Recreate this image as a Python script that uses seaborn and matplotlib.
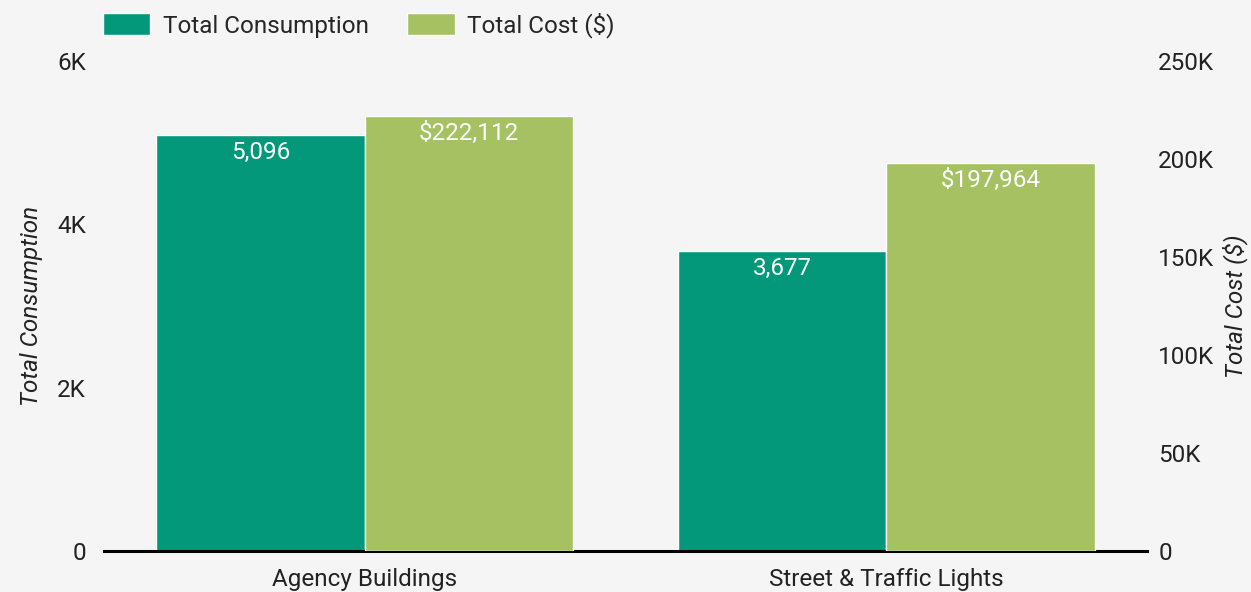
import matplotlib
matplotlib.use("Agg")
import matplotlib.pyplot as plt
import matplotlib.ticker as mticker
from matplotlib.patches import Patch
import seaborn as sns
import pandas as pd

# chart data
categories = ["Agency Buildings", "Street & Traffic Lights"]
consumption = [5096, 3677]
cost = [222112, 197964]
series = ["Total Consumption", "Total Cost ($)"]
colors = ["#029879", "#a5c162"]

sns.set_theme(style="white")
plt.rcParams["font.family"] = ["Roboto", "DejaVu Sans"]
bg = "#f5f5f5"

df_cons = pd.DataFrame({"category": categories, "value": consumption, "metric": series[0]})
df_cost = pd.DataFrame({"category": categories, "value": cost, "metric": series[1]})

fig = plt.figure(figsize=(12.51, 5.92), dpi=100, facecolor=bg)
ax1 = fig.add_axes([0.0831, 0.0693, 0.8338, 0.8277])
ax1.set_facecolor(bg)
ax2 = ax1.twinx()

pal = dict(zip(series, colors))
sns.barplot(data=df_cons, x="category", y="value", hue="metric", hue_order=series,
            order=categories, palette=pal, ax=ax1, width=0.8, dodge=True,
            edgecolor="white", linewidth=1, legend=False, saturation=1)
sns.barplot(data=df_cost, x="category", y="value", hue="metric", hue_order=series,
            order=categories, palette=pal, ax=ax2, width=0.8, dodge=True,
            edgecolor="white", linewidth=1, legend=False, saturation=1)

ax1.set_ylim(0, 6000)
ax2.set_ylim(0, 250000)
ax1.set_xlim(-0.5, 1.5)
ax1.set_yticks([0, 2000, 4000, 6000])
ax2.set_yticks(range(0, 250001, 50000))
kfmt = mticker.FuncFormatter(lambda v, p: "0" if v == 0 else f"{v/1000:g}K")
ax1.yaxis.set_major_formatter(kfmt)
ax2.yaxis.set_major_formatter(kfmt)

fs = 17.5
for ax in (ax1, ax2):
    for s in ["top", "left", "right", "bottom"]:
        ax.spines[s].set_visible(False)
    ax.tick_params(axis="both", length=0, labelsize=fs, colors="#222222", pad=8)
    ax.set_xlabel("")
ax1.spines["bottom"].set_visible(True)
ax1.spines["bottom"].set_color("black")
ax1.spines["bottom"].set_linewidth(2.2)
ax1.spines["bottom"].set_zorder(5)
ax1.tick_params(axis="x", pad=12)
ax1.tick_params(axis="y", pad=13)

ax1.set_ylabel("Total Consumption", fontsize=fs, style="italic", color="#222222", labelpad=10)
ax2.set_ylabel("Total Cost ($)", fontsize=fs, style="italic", color="#222222", labelpad=6)

for c in ax1.containers:
    ax1.bar_label(c, labels=[f"{v:,.0f}" for v in c.datavalues], label_type="edge",
                  padding=-21, color="white", fontsize=fs)
for c in ax2.containers:
    ax2.bar_label(c, labels=[f"${v:,.0f}" for v in c.datavalues], label_type="edge",
                  padding=-21, color="white", fontsize=fs)

handles = [Patch(facecolor=colors[0], label=series[0]), Patch(facecolor=colors[1], label=series[1])]
fig.legend(handles=handles, loc="center left", bbox_to_anchor=(0.0823, 0.957), ncol=2,
           frameon=False, fontsize=fs, handlelength=1.95, handleheight=1.0,
           handletextpad=0.5, columnspacing=1.6, borderaxespad=0, borderpad=0)

fig.savefig("out.png", dpi=100, facecolor=bg)
